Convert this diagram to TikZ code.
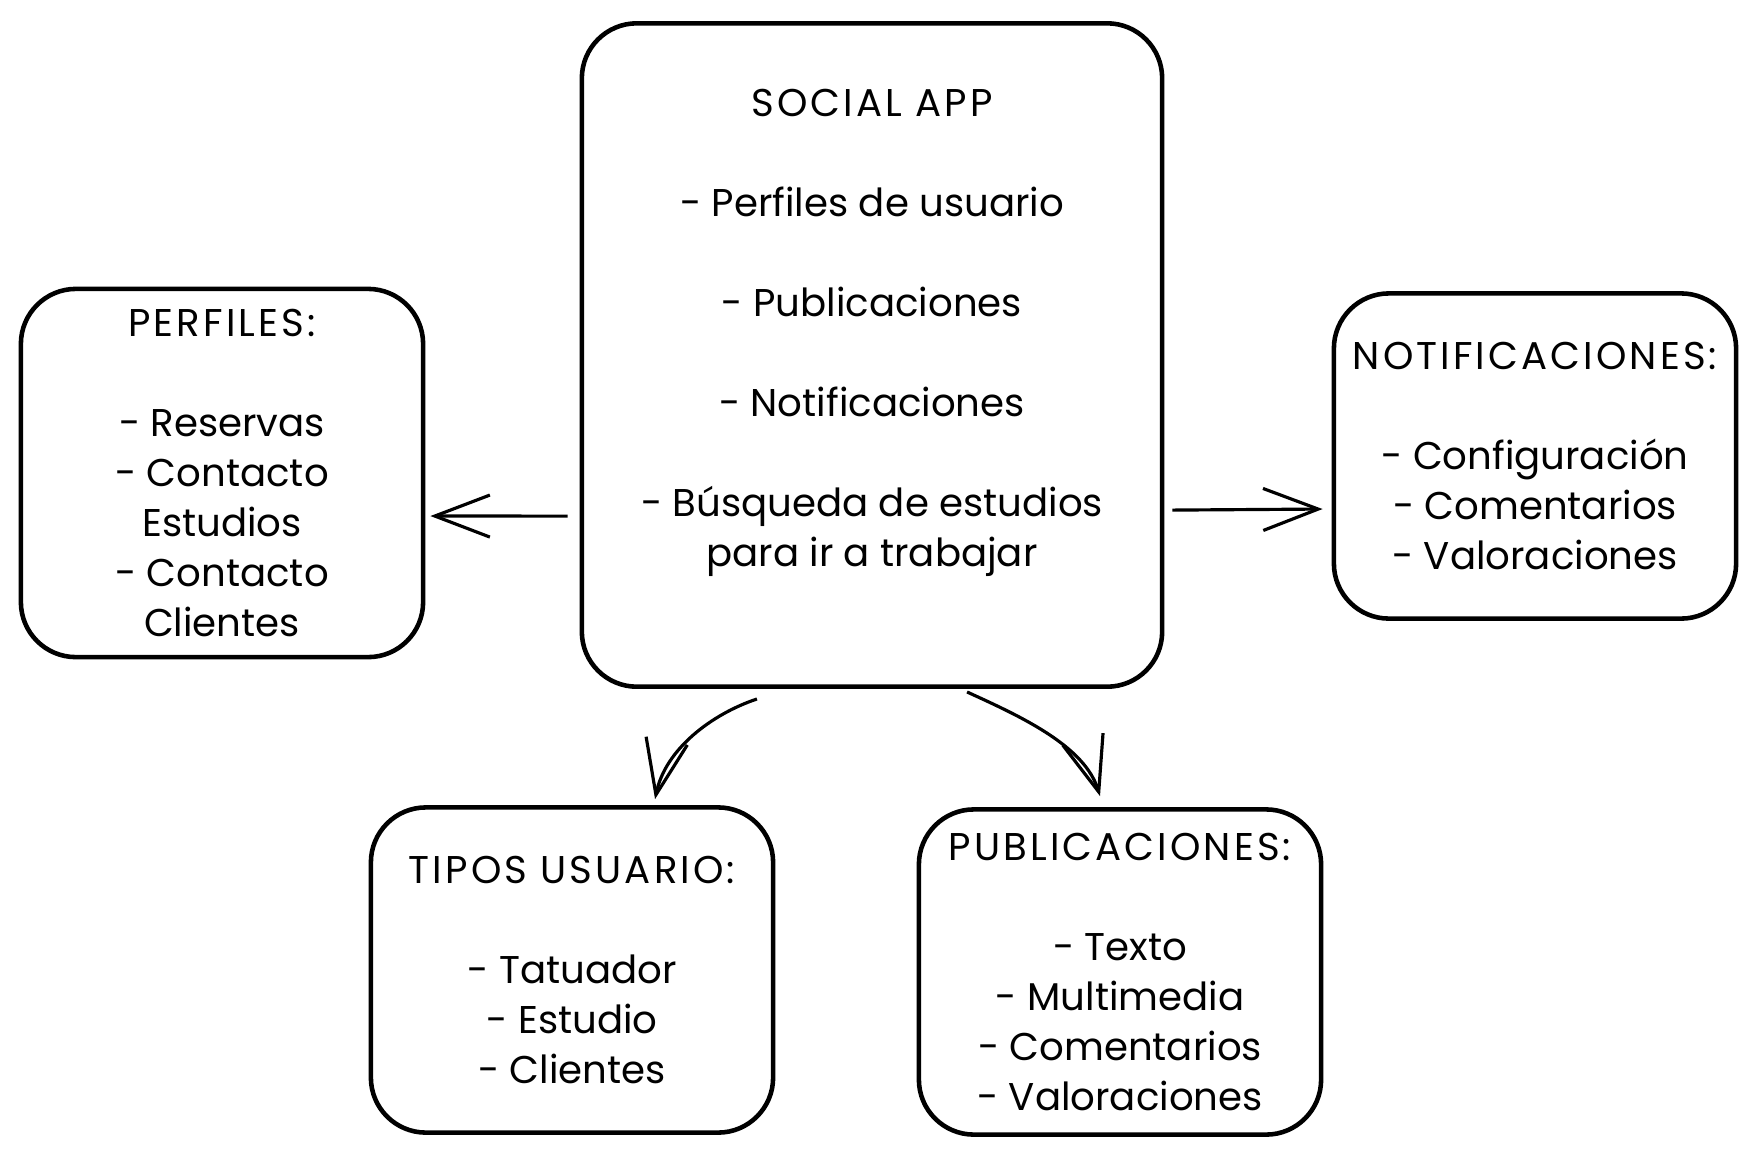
\documentclass[tikz,border=0pt]{standalone}
\usepackage{fontspec}
\setmainfont{Poppins}
\usetikzlibrary{arrows.meta,
  positioning
}
\def\boxw{4.02cm}
\def\boxh{3.25cm}
\newcommand{\cardtitle}[1]{{\addfontfeature{LetterSpace=8}#1}}

\tikzset{
  card/.style={draw, line width=1.3pt, rounded corners=0.55cm, align=center,
    minimum width=\boxw, minimum height=\boxh, inner sep=0pt,
    font=\fontsize{11}{14.2}\selectfont},
  cardtext/.style={align=center, inner sep=0pt, font=\fontsize{11}{14.2}\selectfont},
  link/.style={line width=0.9pt, -{Straight Barb[length=0.55cm, width=0.42cm, line width=0.9pt]}}
}

\begin{document}
\begin{tikzpicture}[x=0.01cm, y=-0.01cm]
  \useasboundingbox (0, 0) rectangle (1755, 1151);

  % Social app
  \node[card, minimum width=5.8cm, minimum height=6.63cm] (app) at (872, 355) {};
  \node[cardtext] (apptext) at (872, 333) {\cardtitle{SOCIAL APP}\\[14.2pt]
    - Perfiles de usuario\\[14.2pt]
    - Publicaciones\\[14.2pt]
    - Notificaciones\\[14.2pt]
    - Búsqueda de estudios\\
    para ir a trabajar};

  % Perfiles
  \node[card, minimum height=3.68cm] (perf) at (222, 473) {\cardtitle{PERFILES:}\\[14.2pt]
    - Reservas\\
    - Contacto\\
    Estudios\\
    - Contacto\\
    Clientes};

  % Notificaciones
  \node[card] (notif) at (1535, 456) {\cardtitle{NOTIFICACIONES:}\\[14.2pt]
    - Configuración\\
    - Comentarios\\
    - Valoraciones};

  % Tipos usuario
  \node[card] (tipos) at (572, 970) {\cardtitle{TIPOS USUARIO:}\\[14.2pt]
    - Tatuador\\
    - Estudio\\
    - Clientes};

  % Publicaciones
  \node[card] (publ) at (1120, 972) {\cardtitle{PUBLICACIONES:}\\[14.2pt]
    - Texto\\
    - Multimedia\\
    - Comentarios\\
    - Valoraciones};

  \draw[link] ([xshift=-0.12cm, yshift=-1.61cm]app.west) -- ([xshift=0.05cm, yshift=-0.43cm]perf.east);
  \draw[link] ([xshift=0.08cm, yshift=-1.55cm]app.east) -- ([xshift=-0.09cm, yshift=-0.53cm]notif.west);

  \draw[link] ([xshift=-1.15cm, yshift=-0.1cm]app.south) .. controls +(-45, 15) and +(10, -50) .. ([xshift=0.83cm, yshift=0.06cm]tipos.north);
  \draw[link] ([xshift=0.95cm, yshift=-0.03cm]app.south) .. controls +(55, 25) and +(-15, -50) .. ([xshift=-0.2cm, yshift=0.11cm]publ.north);
\end{tikzpicture}
\end{document}
